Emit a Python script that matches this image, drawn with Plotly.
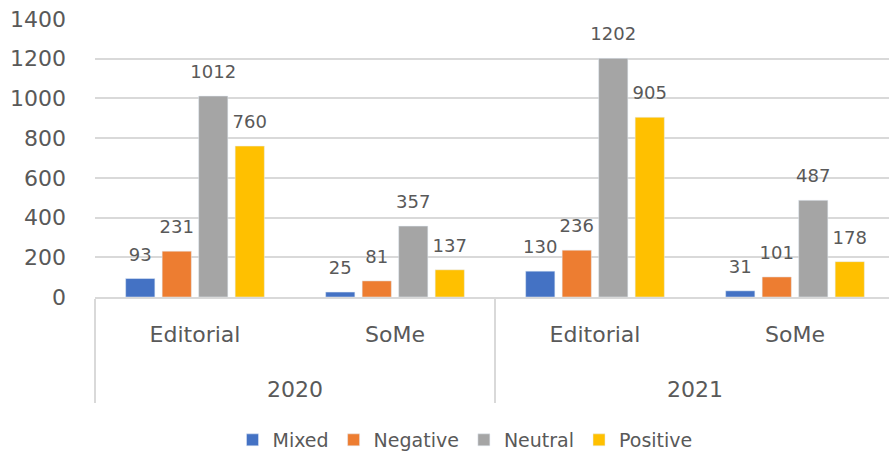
import plotly.graph_objects as go

years = ["2020", "2020", "2021", "2021"]
channels = ["Editorial", "SoMe", "Editorial", "SoMe"]
series_names = ["Mixed", "Negative", "Neutral", "Positive"]
mixed = [93, 25, 130, 31]
negative = [231, 81, 236, 101]
neutral = [1012, 357, 1202, 487]
positive = [760, 137, 905, 178]
colors = ["#4472C4", "#ED7D31", "#A5A5A5", "#FFC000"]
y_ticks = [0, 200, 400, 600, 800, 1000, 1200, 1400]

FONT = "DejaVu Sans"
TXT = "#595959"

# inner labels get an empty, lowered second line so the year row sits lower, like the reference
inner = [c + "<br><span style='baseline-shift:-16px'> </span>" for c in channels]

fig = go.Figure()
for name, vals, col in zip(series_names, [mixed, negative, neutral, positive], colors):
    fig.add_trace(go.Bar(
        x=[years, inner], y=vals, name=name, marker_color=col,
        offsetgroup=name, hoverinfo="skip",
    ))
for name, vals in zip(series_names, [mixed, negative, neutral, positive]):
    fig.add_trace(go.Scatter(
        x=[years, inner], y=vals, mode="markers+text", offsetgroup=name,
        marker=dict(size=20, opacity=0), text=[str(v) for v in vals],
        textposition="top center", textfont=dict(size=18, color=TXT, family=FONT),
        showlegend=False, hoverinfo="skip", cliponaxis=False,
    ))

fig.update_layout(
    width=895, height=459,
    margin=dict(l=95, r=0, t=19, b=161),
    paper_bgcolor="white", plot_bgcolor="white",
    barmode="group", bargap=0.27, bargroupgap=0.2,
    scattermode="group", scattergap=0.27,
    font=dict(family=FONT, color=TXT),
    showlegend=True,
    legend=dict(orientation="h", x=0.4625, xanchor="center", y=-0.5125, yanchor="middle",
                font=dict(size=19, color=TXT, family=FONT), itemwidth=30,
                traceorder="normal"),
)
fig.update_xaxes(
    type="multicategory", showline=True, linecolor="#D9D9D9", linewidth=1.5,
    showdividers=True, dividercolor="#D9D9D9", dividerwidth=1.5,
    tickfont=dict(size=22, color=TXT, family=FONT), ticks="",
    showgrid=False, zeroline=False, automargin=False, ticklabelstandoff=17,
)
fig.update_yaxes(
    range=[0, 1400], tickvals=y_ticks, ticktext=[str(t) for t in y_ticks],
    showgrid=True, gridcolor="#D9D9D9", gridwidth=1.5,
    zeroline=False, showline=False, automargin=False,
    tickfont=dict(size=22, color=TXT, family=FONT), ticklabelstandoff=28,
)
fig.write_html(
    "out.html",
    config={"displayModeBar": False},
    post_script="document.body.style.margin='0';document.body.style.overflow='hidden';",
)
